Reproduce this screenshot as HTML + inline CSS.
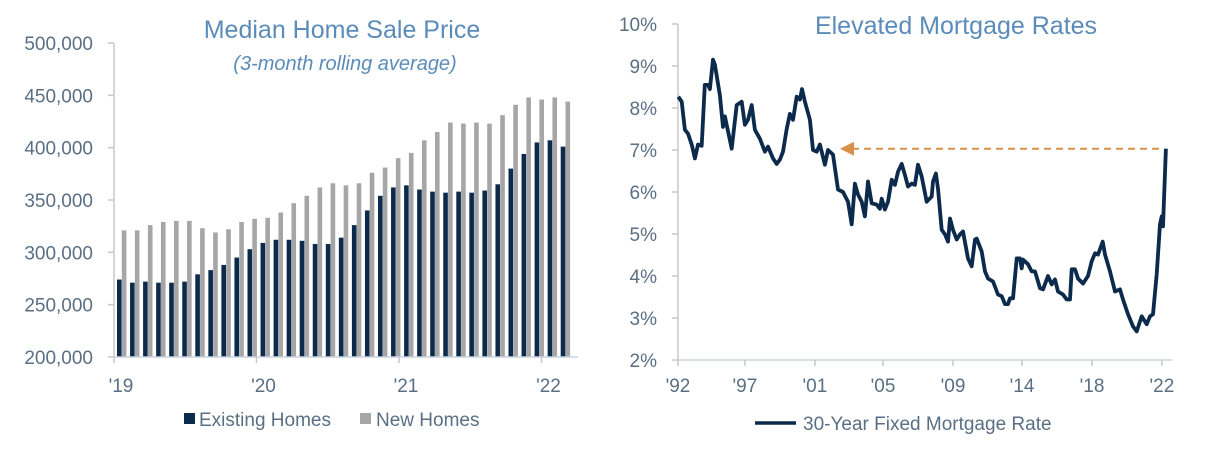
<!DOCTYPE html>
<html><head><meta charset="utf-8"><style>
html,body{margin:0;padding:0;background:#fff;}
body{width:1212px;height:450px;overflow:hidden;font-family:"Liberation Sans",sans-serif;}
svg text{font-family:"Liberation Sans",sans-serif;}
</style></head><body>
<svg id="chart" width="1212" height="450" xmlns="http://www.w3.org/2000/svg">
<g id="left"></g>
<g id="right"></g>
</svg>
<script>
// ---- Left chart data ----
const priceYTicks = [200000, 250000, 300000, 350000, 400000, 450000, 500000];
const priceXLabels = ["'19", "'20", "'21", "'22"];
const existingHomes = [274,271,272,271,271,272,279,283,288,295,303,309,312,312,311,308,308,314,326,340,354,362,364,360,358,357,358,357,359,365,380,394,405,407,401];
const newHomes = [321,321,326,329,330,330,323,319,322,329,332,333,338,347,354,362,366,364,366,376,381,390,395,407,415,424,423,424,423,431,441,448,446,448,444];

// ---- Right chart data ----
const rateYTicks = [2,3,4,5,6,7,8,9,10];
const rateXLabels = ["'92","'97","'01","'05","'09","'14","'18","'22"];
const rateXTickYears = [1992,1996.15,2000.49,2004.71,2009.05,2013.33,2017.67,2022];
const rateYears = [0.02,0.23,0.43,0.62,0.85,1.05,1.24,1.47,1.66,1.86,1.98,2.17,2.29,2.6,2.79,2.91,3.33,3.64,3.95,4.15,4.34,4.57,4.77,5.08,5.39,5.58,5.89,6.12,6.32,6.51,6.74,6.94,7.13,7.36,7.56,7.69,7.87,8.18,8.37,8.6,8.8,9.11,9.3,9.61,9.92,10.23,10.54,10.77,10.97,11.16,11.39,11.59,11.78,12.01,12.32,12.52,12.63,12.83,13.02,13.25,13.45,13.64,13.87,14.07,14.26,14.49,14.69,14.88,15.11,15.42,15.73,15.81,15.99,16.12,16.35,16.55,16.74,16.86,17.05,17.28,17.48,17.67,17.98,18.21,18.41,18.52,18.83,19.03,19.22,19.53,19.84,20.07,20.27,20.46,20.58,20.77,21.0,21.2,21.31,21.39,21.7,21.93,22.13,22.44,22.63,22.94,23.17,23.37,23.56,23.87,24.1,24.3,24.41,24.61,24.8,25.11,25.42,25.65,25.85,26.04,26.33,26.47,26.78,27.09,27.4,27.59,27.9,28.21,28.44,28.75,29.06,29.26,29.45,29.68,29.88,29.99,30.07,30.25];
const rateValues = [8.27,8.15,7.48,7.39,7.13,6.8,7.13,7.1,8.55,8.55,8.45,9.15,9.03,8.3,7.55,7.8,7.03,8.07,8.15,7.6,7.72,8.07,7.48,7.27,6.96,7.08,6.8,6.67,6.77,6.96,7.5,7.86,7.72,8.27,8.2,8.45,8.15,7.72,7.0,6.96,7.13,6.65,7.0,6.89,6.06,6.0,5.77,5.23,6.2,5.94,5.77,5.42,6.25,5.73,5.7,5.6,5.84,5.58,5.77,6.29,6.17,6.48,6.67,6.41,6.13,6.2,6.17,6.65,6.37,5.77,5.89,6.25,6.44,6.08,5.1,4.99,4.82,5.37,5.1,4.87,4.99,5.06,4.42,4.23,4.87,4.89,4.58,4.11,3.94,3.87,3.56,3.52,3.33,3.33,3.47,3.47,4.42,4.42,4.18,4.39,4.28,4.11,4.11,3.71,3.68,4.0,3.8,3.92,3.63,3.56,3.44,3.44,4.16,4.16,3.94,3.82,4.0,4.35,4.54,4.51,4.82,4.51,4.11,3.63,3.68,3.44,3.09,2.8,2.68,3.04,2.85,3.04,3.09,4.04,5.23,5.42,5.18,7.03];
const currentRate = 7.03;

const NS = "http://www.w3.org/2000/svg";
const TXT = "#5A6F84", TITLE = "#5B8CB9", NAVY = "#0C2A4B", GRAY = "#A6A6A6", AXIS = "#C8C8C8";
function mk(parent, tag, attrs, text) {
  const e = document.createElementNS(NS, tag);
  for (const k in attrs) e.setAttribute(k, attrs[k]);
  if (text !== undefined) e.textContent = text;
  parent.appendChild(e);
  return e;
}

// ===== LEFT =====
const L = document.getElementById('left');
const ly = v => 357 - (v - 200000) / 100000 * 104.67;
let t = mk(L, 'text', {x: 342, y: 38, 'text-anchor': 'middle', 'font-size': 25, fill: TITLE});
t.textContent = 'Median Home Sale Price';


t = mk(L, 'text', {x: 345, y: 70, 'text-anchor': 'middle', 'font-size': 20, 'font-style': 'italic', fill: TITLE});
t.textContent = '(3-month rolling average)';


let ax = mk(L, 'line', {x1: 114, y1: 43, x2: 114, y2: 357, stroke: AXIS, 'stroke-width': 1.5});


priceYTicks.forEach(v => {
  const y = ly(v);
  const tk = mk(L, 'line', {x1: 108, y1: y, x2: 114, y2: y, stroke: AXIS, 'stroke-width': 1.5});
  
  
  const lb = mk(L, 'text', {x: 93, y: y + 7, 'text-anchor': 'end', 'font-size': 19, fill: TXT}, v.toLocaleString('en-US'));
  
  
});
const bx = i => 117 + i * 13.05;
existingHomes.forEach((v, i) => {
  const y = ly(v * 1000);
  const r = mk(L, 'rect', {x: bx(i), y: y, width: 4.6, height: 357 - y, fill: NAVY});
  
  
});
newHomes.forEach((v, i) => {
  const y = ly(v * 1000);
  const r = mk(L, 'rect', {x: bx(i) + 4.8, y: y, width: 4.6, height: 357 - y, fill: GRAY});
  
  
});
ax = mk(L, 'line', {x1: 114, y1: 357, x2: 578, y2: 357, stroke: "#C9D3DE", 'stroke-width': 1.5});


priceXLabels.forEach((s, i) => {
  const x = 114 + i * 142.5;
  const tk = mk(L, 'line', {x1: x, y1: 357, x2: x, y2: 363, stroke: AXIS, 'stroke-width': 1.5});
  
  
  const lb = mk(L, 'text', {x: x + 7, y: 392, 'text-anchor': 'middle', 'font-size': 19, fill: TXT}, s);
  
  
});
let lg = mk(L, 'rect', {x: 184, y: 413, width: 11, height: 11, fill: NAVY});


lg = mk(L, 'text', {x: 199, y: 426, 'font-size': 19, fill: TXT}, 'Existing Homes');


lg = mk(L, 'rect', {x: 360, y: 413, width: 11, height: 11, fill: GRAY});


lg = mk(L, 'text', {x: 376, y: 426, 'font-size': 19, fill: TXT}, 'New Homes');



// ===== RIGHT =====
const R = document.getElementById('right');
const ry = v => 24 + (10 - v) * 42;
const rx = yr => 678 + yr * 16.13;
t = mk(R, 'text', {x: 956, y: 34, 'text-anchor': 'middle', 'font-size': 25, fill: TITLE}, 'Elevated Mortgage Rates');


ax = mk(R, 'line', {x1: 678, y1: 24, x2: 678, y2: 360, stroke: AXIS, 'stroke-width': 1.5});


rateYTicks.forEach(v => {
  const y = ry(v);
  const tk = mk(R, 'line', {x1: 672, y1: y, x2: 678, y2: y, stroke: AXIS, 'stroke-width': 1.5});
  
  
  const lb = mk(R, 'text', {x: 657, y: y + 7, 'text-anchor': 'end', 'font-size': 19, fill: TXT}, v + '%');
  
  
});
ax = mk(R, 'line', {x1: 678, y1: 360, x2: 1172, y2: 360, stroke: "#C9D3DE", 'stroke-width': 1.5});


rateXLabels.forEach((s, i) => {
  const x = rx(rateXTickYears[i] - 1992);
  const tk = mk(R, 'line', {x1: x, y1: 360, x2: x, y2: 366, stroke: AXIS, 'stroke-width': 1.5});
  
  
  const lb = mk(R, 'text', {x: x, y: 392, 'text-anchor': 'middle', 'font-size': 19, fill: TXT}, s);
  
  
});
const pts = rateYears.map((yr, i) => rx(yr).toFixed(1) + ',' + ry(rateValues[i]).toFixed(1)).join(' ');
const line = mk(R, 'polyline', {points: pts, fill: 'none', stroke: NAVY, 'stroke-width': 3.8, 'stroke-linejoin': 'round'});


const ay = ry(currentRate);
const dash = mk(R, 'line', {x1: 852, y1: ay, x2: 1163, y2: ay, stroke: '#D9904A', 'stroke-width': 2, 'stroke-dasharray': '7,5'});


const head = mk(R, 'polygon', {points: `840,${ay} 854,${ay - 7} 854,${ay + 7}`, fill: '#D9904A'});


lg = mk(R, 'line', {x1: 755, y1: 423, x2: 796, y2: 423, stroke: NAVY, 'stroke-width': 3.5});


lg = mk(R, 'text', {x: 803, y: 430, 'font-size': 19, fill: TXT}, '30-Year Fixed Mortgage Rate');


</script>
</body></html>
